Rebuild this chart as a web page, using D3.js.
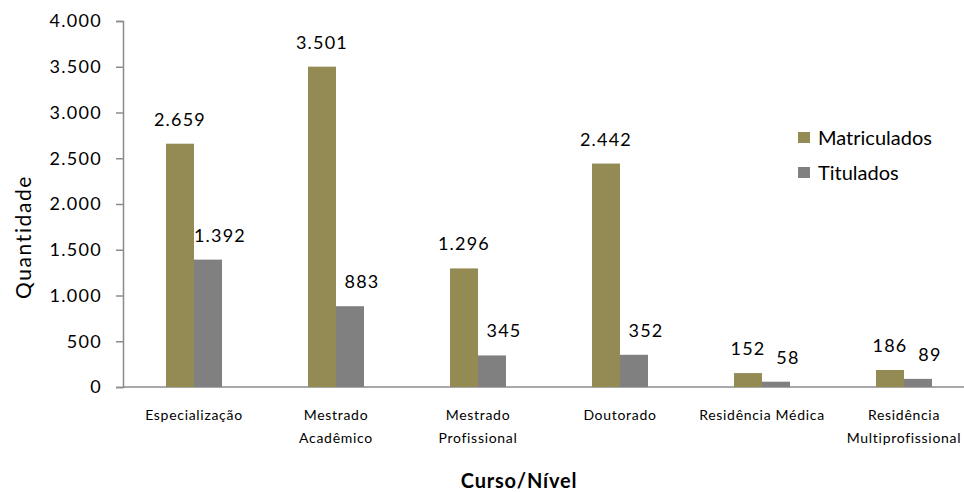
<!DOCTYPE html>
<html>
<head>
<meta charset="utf-8">
<script src="https://cdn.jsdelivr.net/npm/d3@7"></script>
<style>
  body { margin: 0; background: #fff; }
  text { font-family: Lato, "Open Sans", sans-serif; fill: #000; }
</style>
</head>
<body>
<div id="chart"></div>
<script>
// data
const categories = [
    ["Especialização"],
    ["Mestrado", "Acadêmico"],
    ["Mestrado", "Profissional"],
    ["Doutorado"],
    ["Residência Médica"],
    ["Residência", "Multiprofissional"]
];
const seriesNames = ["Matriculados", "Titulados"];
const matriculados = [2659, 3501, 1296, 2442, 152, 186];
const titulados = [1392, 883, 345, 352, 58, 89];
const yTicks = [0, 500, 1000, 1500, 2000, 2500, 3000, 3500, 4000];

const colors = {Matriculados: "#948a54", Titulados: "#808080"};

const width = 964, height = 492;
const margin = {left: 123, right: 975, top: 21, bottom: 387};

const locale = d3.formatLocale({decimal: ",", thousands: ".", grouping: [3], currency: ["R$", ""]});
const fmt = locale.format(",d");

const rows = categories.map((c, i) => ({
    key: i,
    label: c,
    Matriculados: matriculados[i],
    Titulados: titulados[i]
}));

const svg = d3.select("#chart").append("svg")
    .attr("width", width)
    .attr("height", height);

const x0 = d3.scaleBand()
    .domain(rows.map(d => d.key))
    .range([margin.left, margin.right]);

const barW = 28;
const x1 = d3.scaleBand()
    .domain(seriesNames)
    .range([x0.bandwidth() / 2 - barW, x0.bandwidth() / 2 + barW]);

const y = d3.scaleLinear()
    .domain([0, 4000])
    .range([margin.bottom, margin.top]);

// y axis
const yAxis = svg.append("g")
    .attr("transform", "translate(" + margin.left + ",0)")
    .call(d3.axisLeft(y).tickValues(yTicks).tickSize(7).tickPadding(14).tickFormat(fmt));
yAxis.select(".domain").attr("stroke", "#8c8c8c").attr("stroke-width", 1.5);
yAxis.selectAll(".tick line").attr("stroke", "#8c8c8c").attr("stroke-width", 1.5);
yAxis.selectAll(".tick text")
    .attr("font-family", "Lato, sans-serif")
    .attr("font-size", 18)
    .attr("letter-spacing", 1.3)
    .attr("fill", "#000");

// x axis line
svg.append("line")
    .attr("x1", margin.left).attr("x2", margin.right)
    .attr("y1", y(0)).attr("y2", y(0))
    .attr("stroke", "#8c8c8c")
    .attr("stroke-width", 1.5);

// bars
const groups = svg.append("g").selectAll("g")
    .data(rows)
    .join("g")
    .attr("transform", d => "translate(" + x0(d.key) + ",0)");

groups.selectAll("rect")
    .data(d => seriesNames.map(s => ({s: s, v: d[s]})))
    .join("rect")
    .attr("x", d => x1(d.s))
    .attr("width", x1.bandwidth())
    .attr("y", d => y(d.v))
    .attr("height", d => y(0) - y(d.v))
    .attr("fill", d => colors[d.s]);

groups.selectAll("text.val")
    .data(d => seriesNames.map(s => ({s: s, v: d[s]})))
    .join("text")
    .attr("class", "val")
    .attr("x", d => x1(d.s) + x1.bandwidth() / 2 + (d.s === "Titulados" ? 12 : 0))
    .attr("y", d => y(d.v) - 18)
    .attr("text-anchor", "middle")
    .attr("font-size", 18)
    .attr("letter-spacing", 1.2)
    .text(d => fmt(d.v));

// category labels
groups.append("text")
    .attr("class", "cat")
    .attr("x", x0.bandwidth() / 2)
    .attr("y", 420)
    .attr("text-anchor", "middle")
    .attr("font-size", 14)
    .attr("letter-spacing", 0.7)
    .selectAll("tspan")
    .data(d => d.label)
    .join("tspan")
    .attr("x", x0.bandwidth() / 2)
    .attr("dy", (d, i) => i === 0 ? 0 : 23)
    .text(d => d);

// axis titles
svg.append("text")
    .attr("x", 519)
    .attr("y", 488)
    .attr("text-anchor", "middle")
    .attr("font-size", 20)
    .attr("font-weight", "bold")
    .attr("letter-spacing", 0.8)
    .text("Curso/Nível");

svg.append("text")
    .attr("transform", "translate(31,237) rotate(-90)")
    .attr("text-anchor", "middle")
    .attr("font-size", 21)
    .attr("letter-spacing", 1.6)
    .text("Quantidade");

// legend
const legend = svg.append("g").selectAll("g")
    .data(seriesNames)
    .join("g")
    .attr("transform", (d, i) => "translate(798," + (132 + i * 35) + ")");

legend.append("rect")
    .attr("width", 12)
    .attr("height", 11)
    .attr("fill", d => colors[d]);

legend.append("text")
    .attr("x", 20)
    .attr("y", 6)
    .attr("dy", "0.35em")
    .attr("font-size", 20)
    .text(d => d);
</script>
</body>
</html>
